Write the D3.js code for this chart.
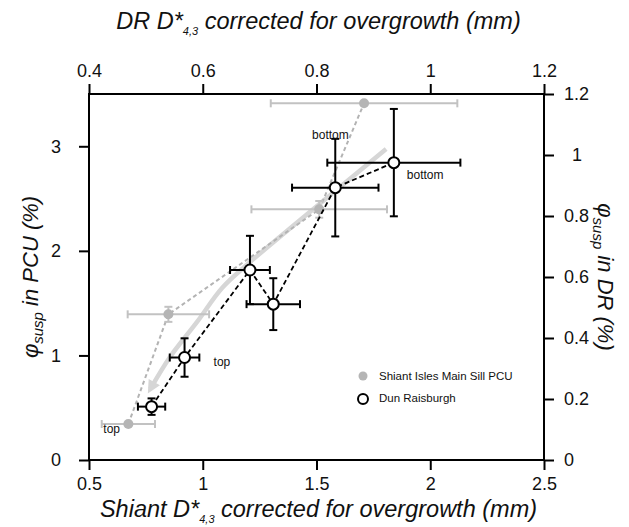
<!DOCTYPE html>
<html>
<head>
<meta charset="utf-8">
<script src="https://cdn.jsdelivr.net/npm/d3@7"></script>
<style>
  body { margin: 0; background: #fff; }
  svg { display: block; }
  text { font-family: "Liberation Sans", Arial, sans-serif; fill: #111; }
</style>
</head>
<body>
<svg id="chart" width="629" height="527"></svg>
<script>
// Shiant Isles Main Sill PCU (bottom / left axes)
const shiantD      = [0.673, 0.849, 1.512, 1.709];
const shiantDErr   = [0.117, 0.179, 0.298, 0.410];
const shiantPhi    = [0.344, 1.393, 2.397, 3.411];
const shiantPhiErr = [0.000, 0.072, 0.080, 0.000];

// Dun Raisburgh (top / right axes), ordered top to bottom of the sill
const drD      = [0.510, 0.568, 0.683, 0.724, 0.833, 0.936];
const drDErr   = [0.024, 0.026, 0.035, 0.047, 0.076, 0.117];
const drPhi    = [0.175, 0.336, 0.623, 0.511, 0.893, 0.975];
const drPhiErr = [0.027, 0.063, 0.112, 0.085, 0.160, 0.176];

// Trend arrow drawn in Shiant coordinates (bottom / left axes)
const trendD   = [1.806, 1.428, 1.208, 1.085, 0.975, 0.856, 0.770];
const trendPhi = [2.974, 2.295, 1.893, 1.645, 1.320, 0.985, 0.680];

// Tick values
const bottomTicks = [0.5, 1, 1.5, 2, 2.5];
const topTicks    = [0.4, 0.6, 0.8, 1, 1.2];
const leftTicks   = [0, 1, 2, 3];
const rightTicks  = [0, 0.2, 0.4, 0.6, 0.8, 1, 1.2];

// Legend entries
const legendNames = ["Shiant Isles Main Sill PCU", "Dun Raisburgh"];

const svg = d3.select("#chart");
const L = 89, R = 544, T = 94, B = 460;

const xS  = d3.scaleLinear().domain([0.5, 2.5]).range([L, R]);
const xDR = d3.scaleLinear().domain([0.4, 1.2]).range([L, R]);
const yS  = d3.scaleLinear().domain([0, 3.5]).range([B, T]);
const yDR = d3.scaleLinear().domain([0, 1.2]).range([B, T]);

const GREY_PT = "#b5b5b5", GREY_BAR = "#c2c2c2", GREY_LINE = "#b3b3b3", ARROW = "#d6d6d6";

// arrow head marker
svg.append("defs").append("marker")
  .attr("id", "head").attr("viewBox", "0 0 10 10")
  .attr("markerUnits", "userSpaceOnUse")
  .attr("refX", 6).attr("refY", 5)
  .attr("markerWidth", 15).attr("markerHeight", 13)
  .attr("orient", "auto")
  .append("path").attr("d", "M0,0 L10,5 L0,10 z").attr("fill", ARROW);

const plot = svg.append("g");

// trend arrow
plot.append("path")
  .datum(d3.range(trendD.length))
  .attr("d", d3.line().x(i => xS(trendD[i])).y(i => yS(trendPhi[i])).curve(d3.curveCatmullRom.alpha(0.5)))
  .attr("fill", "none").attr("stroke", ARROW).attr("stroke-width", 4.5)
  .attr("marker-end", "url(#head)");

// Shiant connecting line
const sIdx = d3.range(shiantD.length);
plot.append("path")
  .datum(sIdx)
  .attr("d", d3.line().x(i => xS(shiantD[i])).y(i => yS(shiantPhi[i])))
  .attr("fill", "none").attr("stroke", GREY_LINE).attr("stroke-width", 2)
  .attr("stroke-dasharray", "4,3");

function errorBars(g, idx, xs, ys, xv, xe, yv, ye, color, width) {
  const cap = 4;
  idx.forEach(i => {
    const cx = xs(xv[i]), cy = ys(yv[i]);
    if (xe[i] > 0) {
      const a = xs(xv[i] - xe[i]), b = xs(xv[i] + xe[i]);
      g.append("line").attr("x1", a).attr("x2", b).attr("y1", cy).attr("y2", cy);
      g.append("line").attr("x1", a).attr("x2", a).attr("y1", cy - cap).attr("y2", cy + cap);
      g.append("line").attr("x1", b).attr("x2", b).attr("y1", cy - cap).attr("y2", cy + cap);
    }
    if (ye[i] > 0) {
      const a = ys(yv[i] - ye[i]), b = ys(yv[i] + ye[i]);
      g.append("line").attr("x1", cx).attr("x2", cx).attr("y1", a).attr("y2", b);
      g.append("line").attr("x1", cx - cap).attr("x2", cx + cap).attr("y1", a).attr("y2", a);
      g.append("line").attr("x1", cx - cap).attr("x2", cx + cap).attr("y1", b).attr("y2", b);
    }
  });
  g.attr("stroke", color).attr("stroke-width", width);
}

errorBars(plot.append("g"), sIdx, xS, yS, shiantD, shiantDErr, shiantPhi, shiantPhiErr, GREY_BAR, 2);

plot.append("g").selectAll("circle").data(sIdx).join("circle")
  .attr("cx", i => xS(shiantD[i])).attr("cy", i => yS(shiantPhi[i]))
  .attr("r", 5).attr("fill", GREY_PT);

// Dun Raisburgh connecting line
const dIdx = d3.range(drD.length);
plot.append("path")
  .datum(dIdx)
  .attr("d", d3.line().x(i => xDR(drD[i])).y(i => yDR(drPhi[i])))
  .attr("fill", "none").attr("stroke", "#000").attr("stroke-width", 1.8)
  .attr("stroke-dasharray", "5,3");

errorBars(plot.append("g"), dIdx, xDR, yDR, drD, drDErr, drPhi, drPhiErr, "#000", 2);

plot.append("g").selectAll("circle").data(dIdx).join("circle")
  .attr("cx", i => xDR(drD[i])).attr("cy", i => yDR(drPhi[i]))
  .attr("r", 5.5).attr("fill", "#fff").attr("stroke", "#000").attr("stroke-width", 2);

// top / bottom annotations
const ann = plot.append("g").attr("font-size", 12);
const sLast = shiantD.length - 1, dLast = drD.length - 1;
ann.append("text").attr("x", xS(shiantD[0]) - 25).attr("y", yS(shiantPhi[0]) + 9).text("top");
ann.append("text").attr("x", xS(shiantD[sLast]) - 52).attr("y", yS(shiantPhi[sLast]) + 36).text("bottom");
ann.append("text").attr("x", xDR(drD[1]) + 29).attr("y", yDR(drPhi[1]) + 8).text("top");
ann.append("text").attr("x", xDR(drD[dLast]) + 13).attr("y", yDR(drPhi[dLast]) + 16).text("bottom");

// legend
const leg = svg.append("g").attr("font-size", 11.5);
leg.append("circle").attr("cx", 363).attr("cy", 376).attr("r", 4.5).attr("fill", GREY_PT);
leg.append("circle").attr("cx", 363).attr("cy", 399).attr("r", 5).attr("fill", "#fff")
  .attr("stroke", "#000").attr("stroke-width", 2);
leg.selectAll("text").data(legendNames).join("text")
  .attr("x", 379).attr("y", (d, i) => 380 + i * 22).text(d => d);

// frame
svg.append("rect").attr("x", L).attr("y", T).attr("width", R - L).attr("height", B - T)
  .attr("fill", "none").attr("stroke", "#000").attr("stroke-width", 2);

function styleAxis(g) {
  g.select(".domain").remove();
  g.selectAll(".tick line").attr("stroke", "#000").attr("stroke-width", 2);
  g.selectAll(".tick text").attr("font-size", 18).attr("fill", "#111")
    .attr("font-family", "'Liberation Sans', Arial, sans-serif");
}

svg.append("g").attr("transform", `translate(0,${B})`)
  .call(d3.axisBottom(xS).tickValues(bottomTicks).tickSize(10).tickPadding(7).tickFormat(d => String(d)))
  .call(styleAxis);
svg.append("g").attr("transform", `translate(0,${T})`)
  .call(d3.axisTop(xDR).tickValues(topTicks).tickSize(10).tickPadding(7).tickFormat(d => String(d)))
  .call(styleAxis);
svg.append("g").attr("transform", `translate(${L},0)`)
  .call(d3.axisLeft(yS).tickValues(leftTicks).tickSize(10).tickPadding(18).tickFormat(d => String(d)))
  .call(styleAxis);
const rAx = svg.append("g").attr("transform", `translate(${R},0)`)
  .call(d3.axisRight(yDR).tickValues(rightTicks).tickSize(10).tickPadding(10).tickFormat(d => String(d)))
  .call(styleAxis);
rAx.selectAll(".tick text").filter(d => d === 1).attr("dx", 8);

// axis titles
function dTitle(sel, prefix) {
  sel.append("tspan").text(prefix + "D*");
  sel.append("tspan").attr("font-size", 11).attr("dy", 6).text("4,3");
  sel.append("tspan").attr("dy", -6).text(" corrected for overgrowth (mm)");
}
function phiTitle(sel, suffix) {
  sel.append("tspan").text("φ");
  sel.append("tspan").attr("font-size", 15).attr("dy", 5).text("susp");
  sel.append("tspan").attr("dy", -5).text(suffix);
}

svg.append("text").attr("x", (L + R) / 2 + 2).attr("y", 29).attr("text-anchor", "middle")
  .attr("font-size", 23.5).attr("font-style", "italic").call(dTitle, "DR ");
svg.append("text").attr("x", (L + R) / 2 + 2).attr("y", 517).attr("text-anchor", "middle")
  .attr("font-size", 23.5).attr("font-style", "italic").call(dTitle, "Shiant ");
svg.append("text").attr("transform", `translate(38,${(T + B) / 2}) rotate(-90)`).attr("text-anchor", "middle")
  .attr("font-size", 22).attr("font-style", "italic").call(phiTitle, " in PCU (%)");
svg.append("text").attr("transform", `translate(598,${(T + B) / 2}) rotate(90)`).attr("text-anchor", "middle")
  .attr("font-size", 22).attr("font-style", "italic").call(phiTitle, " in DR (%)");
</script>
</body>
</html>
